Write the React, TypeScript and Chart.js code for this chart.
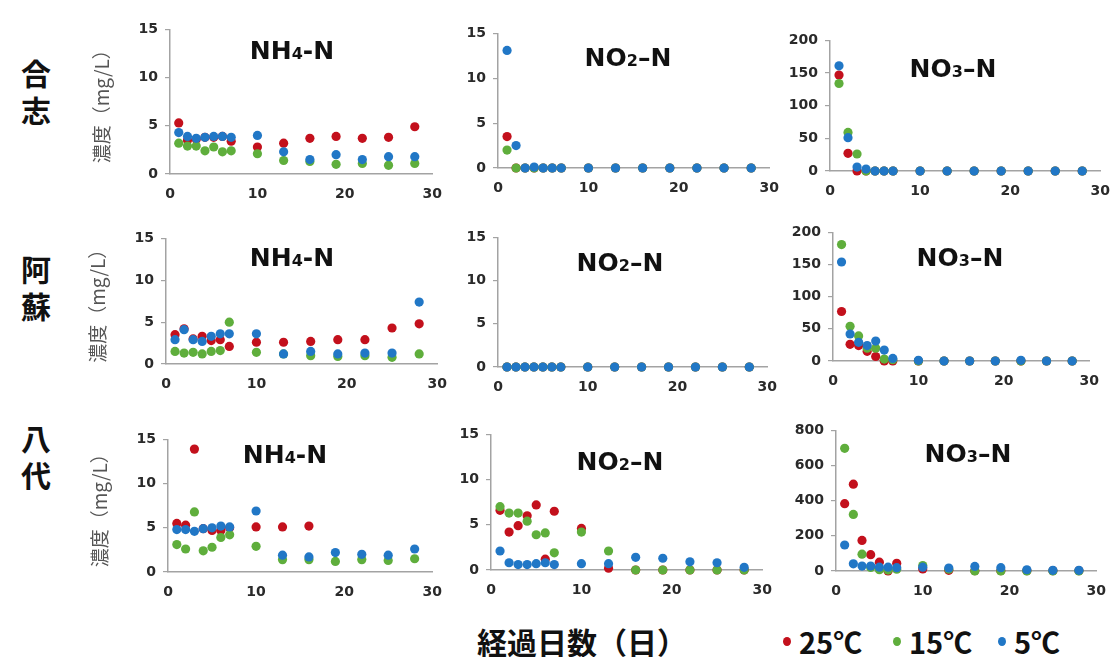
import React, { useEffect, useRef } from "react";
import { Chart, registerables } from "chart.js";
Chart.register(...registerables);

// ---------- data ----------
const days = [1, 2, 3, 4, 5, 6, 7, 10, 13, 16, 19, 22, 25, 28];
const siteNames = ["合志", "阿蘇", "八代"];
const tempLabels = ["25℃", "15℃", "5℃"];
const tempColors = ["#c3101c", "#5fae3c", "#2177c6"];
const xTicks = [0, 10, 20, 30];
const nh4Axis = [0, 15, 5]; // min, max, step
const no2Axis = [0, 15, 5];
const no3Axis = [0, 200, 50];
const no3AxisYatsushiro = [0, 800, 200];
const yAxisTitle = "濃度（mg/L）";
const xAxisTitle = "経過日数（日）";

// 合志
const koshiNH4_25 = [5.3, 3.5, 3.6, 3.8, 3.8, 3.9, 3.4, 2.8, 3.2, 3.7, 3.9, 3.7, 3.8, 4.9];
const koshiNH4_15 = [3.2, 2.9, 2.9, 2.4, 2.8, 2.3, 2.4, 2.1, 1.4, 1.3, 1.0, 1.1, 0.9, 1.1];
const koshiNH4_5 = [4.3, 3.9, 3.7, 3.8, 3.9, 3.9, 3.8, 4.0, 2.3, 1.5, 2.0, 1.5, 1.8, 1.8];
const koshiNO2_25 = [3.5, 0, 0, 0, 0, 0, 0, 0, 0, 0, 0, 0, 0, 0];
const koshiNO2_15 = [2.0, 0, 0, 0, 0, 0, 0, 0, 0, 0, 0, 0, 0, 0];
const koshiNO2_5 = [13.1, 2.5, 0, 0.1, 0, 0, 0, 0, 0, 0, 0, 0, 0, 0];
const koshiNO3_25 = [147, 27, 0, 0, 0, 0, 0, 0, 0, 0, 0, 0, 0, 0];
const koshiNO3_15 = [134, 59, 26, 0, 0, 0, 0, 0, 0, 0, 0, 0, 0, 0];
const koshiNO3_5 = [161, 51, 6, 3, 0, 0, 0, 0, 0, 0, 0, 0, 0, 0];

// 阿蘇
const asoNH4_25 = [3.5, 4.2, 3.0, 3.3, 2.8, 2.9, 2.1, 2.6, 2.6, 2.7, 2.9, 2.9, 4.3, 4.8];
const asoNH4_15 = [1.5, 1.3, 1.4, 1.2, 1.5, 1.6, 5.0, 1.4, 1.2, 1.0, 0.9, 1.0, 0.8, 1.2];
const asoNH4_5 = [2.9, 4.1, 2.9, 2.7, 3.3, 3.6, 3.6, 3.6, 1.2, 1.5, 1.2, 1.3, 1.3, 7.4];
const asoNO2_25 = [0, 0, 0, 0, 0, 0, 0, 0, 0, 0, 0, 0, 0, 0];
const asoNO2_15 = [0, 0, 0, 0, 0, 0, 0, 0, 0, 0, 0, 0, 0, 0];
const asoNO2_5 = [0, 0, 0, 0, 0, 0, 0, 0, 0, 0, 0, 0, 0, 0];
const asoNO3_25 = [77, 26, 24, 15, 7, 0, 0, 0, 0, 0, 0, 0, 0, 0];
const asoNO3_15 = [181, 54, 39, 20, 20, 3, 2, 0, 0, 0, 0, 0, 0, 0];
const asoNO3_5 = [154, 42, 29, 24, 31, 17, 4, 1, 0, 0, 0, 1, 0, 0];

// 八代
const yatsuNH4_25 = [5.5, 5.3, 13.9, 4.9, 4.7, 4.7, 5.0, 5.1, 5.1, 5.2, null, null, null, null];
const yatsuNH4_15 = [3.1, 2.6, 6.8, 2.4, 2.8, 3.9, 4.2, 2.9, 1.4, 1.4, 1.2, 1.4, 1.3, 1.5];
const yatsuNH4_5 = [4.8, 4.8, 4.6, 4.9, 5.0, 5.2, 5.1, 6.9, 1.9, 1.7, 2.2, 2.0, 1.9, 2.6];
const yatsuNO2_25 = [6.6, 4.2, 4.9, 6.0, 7.2, 1.2, 6.5, 4.6, 0.2, 0, 0, 0, 0, 0];
const yatsuNO2_15 = [7.0, 6.3, 6.3, 5.4, 3.9, 4.1, 1.9, 4.2, 2.1, 0, 0, 0, 0, 0];
const yatsuNO2_5 = [2.1, 0.8, 0.6, 0.6, 0.7, 0.8, 0.6, 0.7, 0.7, 1.4, 1.3, 0.9, 0.8, 0.3];
const yatsuNO3_25 = [383, 494, 174, 93, 50, 0, 44, 12, 4, 2, 2, 2, 2, 2];
const yatsuNO3_15 = [698, 322, 96, 20, 7, 5, 10, 31, 10, 0, 0, 0, 0, 0];
const yatsuNO3_5 = [148, 41, 28, 28, 22, 22, 19, 22, 17, 26, 19, 7, 4, 4];

// ---------- layout ----------
type Area = { l: number; r: number; t: number; b: number };
type Spec = {
  id: string;
  series: (number | null)[][];
  axis: number[];
  area: Area;
  yTitle: boolean;
  title: [string, string, string];
  tx: number;
  ty: number;
};

const specs: Spec[] = [
  { id: "k1", series: [koshiNH4_25, koshiNH4_15, koshiNH4_5], axis: nh4Axis, area: { l: 170, r: 436, t: 26, b: 174 }, yTitle: true, title: ["NH", "4", "-N"], tx: 292, ty: 50 },
  { id: "k2", series: [koshiNO2_25, koshiNO2_15, koshiNO2_5], axis: no2Axis, area: { l: 498, r: 773, t: 30, b: 168 }, yTitle: false, title: ["NO", "2", "–N"], tx: 628, ty: 57 },
  { id: "k3", series: [koshiNO3_25, koshiNO3_15, koshiNO3_5], axis: no3Axis, area: { l: 830, r: 1104, t: 37, b: 171 }, yTitle: false, title: ["NO", "3", "–N"], tx: 953, ty: 68 },
  { id: "a1", series: [asoNH4_25, asoNH4_15, asoNH4_5], axis: nh4Axis, area: { l: 166, r: 441, t: 235, b: 364 }, yTitle: true, title: ["NH", "4", "-N"], tx: 292, ty: 257 },
  { id: "a2", series: [asoNO2_25, asoNO2_15, asoNO2_5], axis: no2Axis, area: { l: 498, r: 771, t: 234, b: 367 }, yTitle: false, title: ["NO", "2", "–N"], tx: 620, ty: 262 },
  { id: "a3", series: [asoNO3_25, asoNO3_15, asoNO3_5], axis: no3Axis, area: { l: 833, r: 1093, t: 229, b: 361 }, yTitle: false, title: ["NO", "3", "–N"], tx: 960, ty: 257 },
  { id: "y1", series: [yatsuNH4_25, yatsuNH4_15, yatsuNH4_5], axis: nh4Axis, area: { l: 168, r: 436, t: 436, b: 572 }, yTitle: true, title: ["NH", "4", "-N"], tx: 285, ty: 454 },
  { id: "y2", series: [yatsuNO2_25, yatsuNO2_15, yatsuNO2_5], axis: no2Axis, area: { l: 491, r: 766, t: 431, b: 570 }, yTitle: false, title: ["NO", "2", "–N"], tx: 620, ty: 461 },
  { id: "y3", series: [yatsuNO3_25, yatsuNO3_15, yatsuNO3_5], axis: no3AxisYatsushiro, area: { l: 836, r: 1100, t: 427, b: 571 }, yTitle: false, title: ["NO", "3", "–N"], tx: 968, ty: 453 },
];

const tickFont = { family: "'DejaVu Sans', Verdana, sans-serif", size: 14, weight: "bold" as const };
const axisColor = "#a3a3a3";
const tickColor = "#2a2a2a";

function Panel({ spec }: { spec: Spec }) {
  const ref = useRef<HTMLCanvasElement | null>(null);
  const ML = spec.yTitle ? 80 : 60;
  const PT = 12;
  const PR = 18;
  const XH = 32;
  const left = spec.area.l - ML;
  const top = spec.area.t - PT;
  const width = spec.area.r - spec.area.l + ML + PR;
  const height = spec.area.b - spec.area.t + PT + XH;

  useEffect(() => {
    if (!ref.current) return;
    const datasets = spec.series.map((vals, i) => ({
      label: tempLabels[i],
      data: days.map((d, j) => ({ x: d, y: vals[j] })),
      backgroundColor: tempColors[i],
      borderColor: tempColors[i],
      borderWidth: 0,
      pointRadius: 4.6,
      pointHoverRadius: 4.6,
      order: 2 - i,
      clip: false as const,
    }));
    const chart = new Chart(ref.current, {
      type: "scatter",
      data: { datasets },
      options: {
        animation: false,
        responsive: false,
        devicePixelRatio: 1,
        layout: { padding: { top: PT, right: PR, left: 0, bottom: 0 } },
        plugins: { legend: { display: false }, tooltip: { enabled: false } },
        scales: {
          x: {
            type: "linear",
            min: xTicks[0],
            max: xTicks[xTicks.length - 1],
            afterFit: (s: any) => {
              s.height = XH;
            },
            afterBuildTicks: (s: any) => {
              s.ticks = xTicks.map((v) => ({ value: v }));
            },
            ticks: { font: tickFont, color: tickColor, padding: 12, maxRotation: 0 },
            grid: { display: false, drawTicks: false },
            border: { display: true, color: axisColor, width: 1.5 },
          },
          y: {
            type: "linear",
            min: spec.axis[0],
            max: spec.axis[1],
            afterFit: (s: any) => {
              s.width = ML;
            },
            ticks: { stepSize: spec.axis[2], font: tickFont, color: tickColor, padding: 7 },
            grid: { display: true, drawOnChartArea: false, drawTicks: true, tickLength: 5, color: axisColor, lineWidth: 1.2 },
            border: { display: true, color: axisColor, width: 1.5 },
            title: {
              display: spec.yTitle,
              text: yAxisTitle,
              color: "#555555",
              padding: 0,
              font: { family: "'Noto Sans CJK JP', sans-serif", size: 19, weight: "normal" },
            },
          },
        },
      },
    } as any);
    return () => chart.destroy();
  }, []);

  return (
    <canvas
      ref={ref}
      width={width}
      height={height}
      style={{ position: "absolute", left, top, width, height }}
    />
  );
}

const titleStyle: React.CSSProperties = {
  position: "absolute",
  transform: "translate(-50%, -50%)",
  fontFamily: "'DejaVu Sans', Verdana, sans-serif",
  fontWeight: "bold",
  fontSize: 25,
  color: "#111",
  whiteSpace: "nowrap",
  lineHeight: 1,
};

const siteY = [91, 287, 456];

export default function App() {
  return (
    <div
      style={{
        position: "absolute",
        left: 0,
        top: 0,
        width: 1117,
        height: 657,
        background: "#ffffff",
        overflow: "hidden",
      }}
    >
      {specs.map((s) => (
        <Panel key={s.id} spec={s} />
      ))}
      {specs.map((s) => (
        <div key={s.id + "t"} style={{ ...titleStyle, left: s.tx, top: s.ty }}>
          {s.title[0]}
          <span style={{ fontSize: 16 }}>{s.title[1]}</span>
          {s.title[2]}
        </div>
      ))}
      {siteNames.map((n, i) => (
        <div
          key={n}
          style={{
            position: "absolute",
            left: 36,
            top: siteY[i],
            transform: "translate(-50%, -50%)",
            fontFamily: "'Noto Sans CJK JP', sans-serif",
            fontWeight: "bold",
            fontSize: 30,
            lineHeight: "37px",
            color: "#111",
            width: 34,
            textAlign: "center",
          }}
        >
          {n.split("").map((c, k) => (
            <div key={k}>{c}</div>
          ))}
        </div>
      ))}
      <div
        style={{
          position: "absolute",
          left: 477,
          top: 641,
          transform: "translateY(-50%)",
          fontFamily: "'Noto Sans CJK JP', sans-serif",
          fontWeight: "bold",
          fontSize: 30,
          color: "#111",
          whiteSpace: "nowrap",
          lineHeight: 1,
        }}
      >
        {xAxisTitle}
      </div>
      {tempLabels.map((t, i) => {
        const dx = [787, 897, 1002][i];
        return (
          <React.Fragment key={t}>
            <div
              style={{
                position: "absolute",
                left: dx - 4,
                top: 637,
                width: 8,
                height: 9,
                borderRadius: "50%",
                background: tempColors[i],
              }}
            />
            <div
              style={{
                position: "absolute",
                left: dx + 12,
                top: 641,
                transform: "translateY(-50%)",
                fontFamily: "'Noto Sans CJK JP', sans-serif",
                fontWeight: "bold",
                fontSize: 29,
                color: "#111",
                whiteSpace: "nowrap",
                lineHeight: 1,
              }}
            >
              {t}
            </div>
          </React.Fragment>
        );
      })}
    </div>
  );
}
